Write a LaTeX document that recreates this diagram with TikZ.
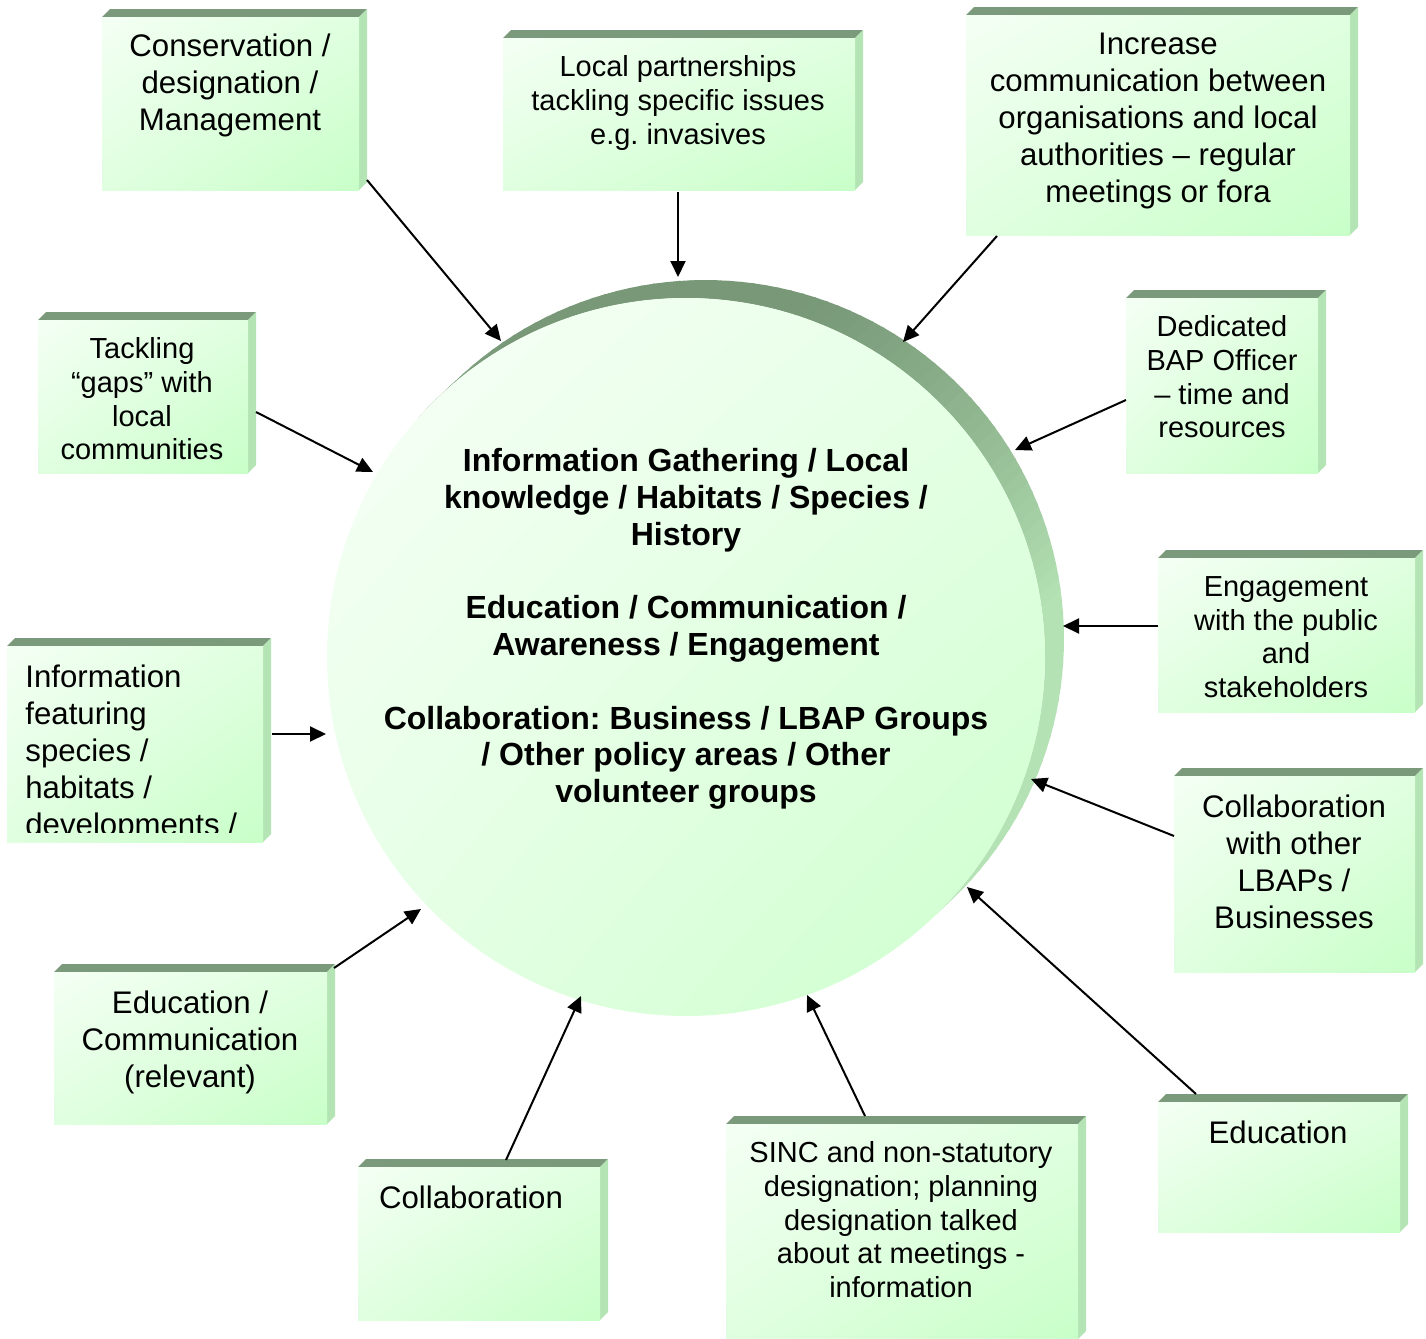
\documentclass[tikz,border=0pt]{standalone}
\usepackage{fontspec}
\setmainfont{Liberation Sans}
\usetikzlibrary{arrows.meta,shadings}
\definecolor{bevtop}{HTML}{7B9A7B}
\definecolor{bevside}{HTML}{B4E4B4}
\definecolor{faceA}{HTML}{F4FFF4}
\definecolor{faceB}{HTML}{E0FFE0}
\definecolor{faceC}{HTML}{C8FFC8}
\definecolor{discA}{HTML}{F8FFF8}
\definecolor{discB}{HTML}{E6FFE6}
\definecolor{discC}{HTML}{CCFFCC}
\definecolor{rimDark}{HTML}{789878}
\definecolor{rimLight}{HTML}{B4E2B4}
\tikzset{
  frontface/.style={shape=rectangle, inner sep=0pt, outer sep=0pt,
    upper left=faceA, upper right=faceB, lower left=faceB, lower right=faceC},
  txtL/.style={font=\fontsize{15.6}{18.5}\selectfont, align=center, inner sep=0pt, anchor=north},
  txtS/.style={font=\fontsize{14.5}{16.9}\selectfont, align=center, inner sep=0pt, anchor=north},
  hubtxt/.style={font=\bfseries\fontsize{16}{18.4}\selectfont, align=center, inner sep=0pt, anchor=north},
  arr/.style={line width=1pt, -{Triangle[length=8pt,width=7.5pt]}}
}
\newcommand\mybevbox[5]{%
  \fill[bevtop] (#2,#3) -- ({#2+8},{#3-8}) -- ({#4+8},{#3-8}) -- (#4,#3) -- cycle;
  \fill[bevside] (#4,#3) -- ({#4+8},{#3-8}) -- ({#4+8},{#5-8}) -- (#4,#5) -- cycle;
  \node[frontface, minimum width={(#4-#2)*0.5pt}, minimum height={(#5-#3)*0.5pt}]
    (#1) at ({(#2+#4)/2},{(#3+#5)/2}) {};
}
\frenchspacing
\begin{document}
\begin{tikzpicture}[x=0.5pt,y=-0.5pt]
\useasboundingbox (0,0) rectangle (1426,1339);
% rim of the hub (extruded disc), coloured by facing angle
\foreach \a in {-46,-44,...,136} {
  \pgfmathtruncatemacro\p{max(0,min(100,110*cos(\a+1-97)))}
  \pgfmathsetmacro\b{\a+2.3}
  \fill[rimDark!\p!rimLight]
    ({686+359*cos(\a)},{657-359*sin(\a)}) -- ({686+359*cos(\b)},{657-359*sin(\b)})
    -- ({705+359*cos(\b)},{639-359*sin(\b)}) -- ({705+359*cos(\a)},{639-359*sin(\a)}) -- cycle;
}
\node[circle, inner sep=0pt, minimum size=359pt,
  upper left=discA, upper right=discB, lower left=discB, lower right=discC] (hub) at (686,657) {};
\node[hubtxt] (hubtext) at (686,448) {Information Gathering / Local\\knowledge / Habitats / Species /\\History\\[18.4pt]Education / Communication /\\Awareness / Engagement\\[18.4pt]Collaboration: Business / LBAP Groups\\/ Other policy areas / Other\\volunteer groups};

% boxes
\mybevbox{b1}{102}{17}{359}{190}
\node[txtL] (t1) at (230,33) {Conservation /\\designation /\\Management};
\mybevbox{b2}{503}{38}{855}{190}
\node[txtS] (t2) at (678,55) {Local partnerships\\tackling specific issues\\e.g. invasives};
\mybevbox{b3}{966}{15}{1350}{235}
\node[txtL] (t3) at (1158,33) {Increase\\communication between\\organisations and local\\authorities -- regular\\meetings or fora};
\mybevbox{b4}{38}{320}{248}{473}
\node[txtS] (t4) at (142,337) {Tackling\\``gaps'' with\\local\\communities};
\mybevbox{b5}{1126}{298}{1318}{473}
\node[txtS] (t5) at (1222,315) {Dedicated\\BAP Officer\\-- time and\\resources};
\mybevbox{b6}{7}{646}{263}{842}
\begin{scope}
\clip (7,646) rectangle (263,832);
\node[txtL, align=left, anchor=north west] (t6) at (25,664) {Information\\featuring\\species /\\habitats /\\developments /};
\end{scope}
\mybevbox{b7}{1158}{558}{1415}{712}
\node[txtS] (t7) at (1286,576) {Engagement\\with the public\\and\\stakeholders};
\mybevbox{b8}{1174}{776}{1415}{972}
\node[txtL] (t8) at (1294,794) {Collaboration\\with other\\LBAPs /\\Businesses};
\mybevbox{b9}{1158}{1102}{1400}{1232}
\node[txtL] (t9) at (1278,1120) {Education};
\mybevbox{b10}{726}{1124}{1078}{1339}
\node[txtS] (t10) at (901,1141) {SINC and non-statutory\\designation; planning\\designation talked\\about at meetings -\\information};
\mybevbox{b11}{358}{1167}{600}{1320}
\node[txtL] (t11) at (471,1185) {Collaboration};
\mybevbox{b12}{54}{972}{327}{1124}
\node[txtL] (t12) at (190,990) {Education /\\Communication\\(relevant)};

% connector end points
\coordinate (s1) at (367,180);   \coordinate (e1) at (501,341);
\coordinate (s2) at (678,192);   \coordinate (e2) at (678,277);
\coordinate (s3) at (997,236);   \coordinate (e3) at (903,342);
\coordinate (s4) at (256,412);   \coordinate (e4) at (373,472);
\coordinate (s5) at (1126,400);  \coordinate (e5) at (1015,450);
\coordinate (s6) at (272,734);   \coordinate (e6) at (326,734);
\coordinate (s7) at (1158,626);  \coordinate (e7) at (1063,626);
\coordinate (s8) at (1174,836);  \coordinate (e8) at (1031,779);
\coordinate (s9) at (1196,1094); \coordinate (e9) at (967,887);
\coordinate (s10) at (865,1116); \coordinate (e10) at (807,995);
\coordinate (s11) at (506,1160); \coordinate (e11) at (581,996);
\coordinate (s12) at (334,968);  \coordinate (e12) at (421,909);
\foreach \i in {1,...,12} \draw[arr] (s\i) -- (e\i);
\end{tikzpicture}
\end{document}
